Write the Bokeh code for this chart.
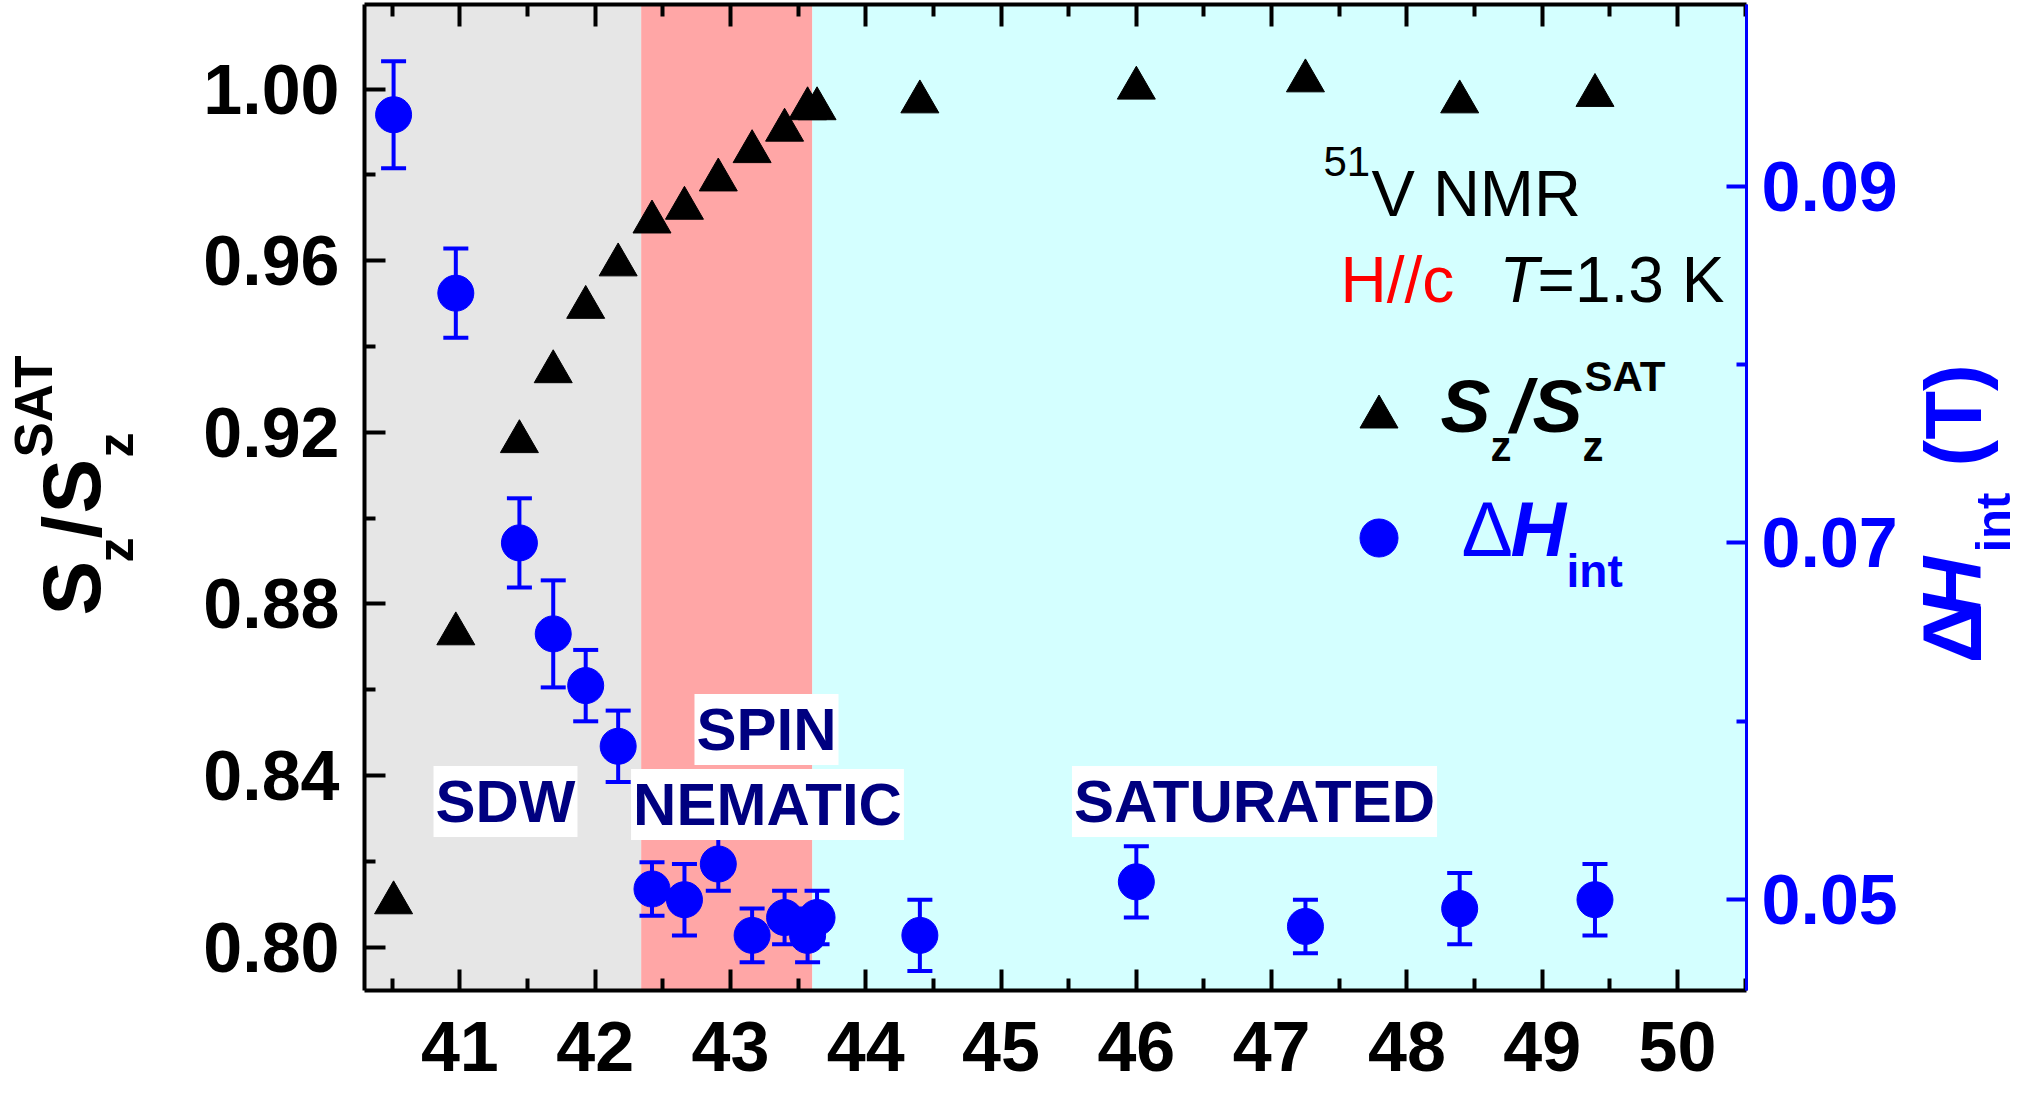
from math import pi
from bokeh.plotting import figure
from bokeh.layouts import row
from bokeh.models import (Range1d, LinearAxis, FixedTicker, PrintfTickFormatter,
                          BoxAnnotation, Label, Legend, LegendItem)
from bokeh.embed import file_html
from bokeh.resources import INLINE

# ---------------- data ----------------
field_T = [40.51, 40.97, 41.44, 41.69, 41.93, 42.17, 42.42, 42.66, 42.91,
           43.16, 43.40, 43.57, 43.64, 44.40, 46.00, 47.25, 48.39, 49.39]
sz_ratio = [0.8103, 0.8730, 0.9178, 0.9341, 0.9491, 0.9590, 0.9690, 0.9722, 0.9788,
            0.9854, 0.9904, 0.9954, 0.9954, 0.9970, 1.0002, 1.0019, 0.9970, 0.9985]
dH_int = [0.0940, 0.0840, 0.0700, 0.0649, 0.0620, 0.0586, 0.0506, 0.0500, 0.0520,
          0.0480, 0.0490, 0.0480, 0.0490, 0.0480, 0.0510, 0.0485, 0.0495, 0.0500]
dH_err = [0.0030, 0.0025, 0.0025, 0.0030, 0.0020, 0.0020, 0.0015, 0.0020, 0.0015,
          0.0015, 0.0015, 0.0015, 0.0015, 0.0020, 0.0020, 0.0015, 0.0020, 0.0020]
phase_edges = [42.34, 43.605]          # SDW | spin nematic | saturated
phase_names = ["SDW", "SPIN", "NEMATIC", "SATURATED"]
x_ticks = [41, 42, 43, 44, 45, 46, 47, 48, 49, 50]
x_minor = [40.5, 41.5, 42.5, 43.5, 44.5, 45.5, 46.5, 47.5, 48.5, 49.5, 50.5]
left_ticks = [0.80, 0.84, 0.88, 0.92, 0.96, 1.00]
left_minor = [0.82, 0.86, 0.90, 0.94, 0.98]
right_ticks = [0.05, 0.07, 0.09]
right_minor = [0.06, 0.08]

dH_lo = [v - e for v, e in zip(dH_int, dH_err)]
dH_hi = [v + e for v, e in zip(dH_int, dH_err)]

FONT = "Liberation Sans"
BLUE = "#0000FF"
NAVY = "#000080"

H = 1103
LW, MW, RW = 170, 1730, 120          # left title strip, main plot, right title strip
FRAME_L, FRAME_R, FRAME_T, FRAME_B = 364, 1746, 4, 990   # page pixels

p = figure(width=MW, height=H, x_range=Range1d(40.295, 50.51),
           y_range=Range1d(0.78986, 1.01970), output_backend="svg",
           toolbar_location=None, min_border_left=FRAME_L - LW,
           min_border_right=LW + MW - FRAME_R, min_border_top=FRAME_T,
           min_border_bottom=H - FRAME_B)
p.extra_y_ranges = {"dH": Range1d(0.04491, 0.10018)}
p.xgrid.visible = False
p.ygrid.visible = False
p.outline_line_color = None
p.background_fill_color = "white"
p.border_fill_color = "white"

# phase backgrounds
p.add_layout(BoxAnnotation(right=phase_edges[0], fill_color="#E6E6E6", fill_alpha=1,
                           line_alpha=0, level="underlay"))
p.add_layout(BoxAnnotation(left=phase_edges[0], right=phase_edges[1], fill_color="#FFA6A6",
                           fill_alpha=1, line_alpha=0, level="underlay"))
p.add_layout(BoxAnnotation(left=phase_edges[1], fill_color="#D4FFFF", fill_alpha=1,
                           line_alpha=0, level="underlay"))


def style_axis(ax, color, tin, tmin, lw, size, standoff, ticks, minor, fmt):
    ax.ticker = FixedTicker(ticks=ticks, minor_ticks=minor)
    ax.formatter = PrintfTickFormatter(format=fmt)
    ax.axis_label = None
    ax.axis_line_color = color
    ax.axis_line_width = lw
    ax.major_tick_line_color = color
    ax.minor_tick_line_color = color
    ax.major_tick_line_width = 4
    ax.minor_tick_line_width = 4
    ax.major_tick_in = tin
    ax.major_tick_out = 0
    ax.minor_tick_in = tmin
    ax.minor_tick_out = 0
    ax.major_label_text_font = FONT
    ax.major_label_text_font_style = "bold"
    ax.major_label_text_font_size = size
    ax.major_label_text_color = color
    ax.major_label_standoff = standoff


style_axis(p.xaxis[0], "black", 21, 12, 4, "70px", 31, x_ticks, x_minor, "%d")
style_axis(p.yaxis[0], "black", 21, 11, 4, "70px", 25, left_ticks, left_minor, "%.2f")

ax_r = LinearAxis(y_range_name="dH")
style_axis(ax_r, BLUE, 20, 10, 3, "70px", 15, right_ticks, right_minor, "%.2f")
p.add_layout(ax_r, "right")

ax_t = LinearAxis()
style_axis(ax_t, "black", 22, 12, 4, "0px", 0, x_ticks, x_minor, "%d")
ax_t.major_label_text_alpha = 0
p.add_layout(ax_t, "above")

# data
r_tri = p.scatter(field_T, sz_ratio, marker="triangle", size=38, color="black")
p.segment(field_T, dH_lo, field_T, dH_hi, y_range_name="dH", line_color=BLUE, line_width=4)
p.scatter(field_T, dH_hi, marker="dash", size=25, line_width=4, line_color=BLUE, y_range_name="dH")
p.scatter(field_T, dH_lo, marker="dash", size=25, line_width=4, line_color=BLUE, y_range_name="dH")
r_circ = p.scatter(field_T, dH_int, marker="circle", size=36, color=BLUE, y_range_name="dH")

# legend symbols (their texts are drawn separately below)
leg = Legend(items=[LegendItem(label=" ", renderers=[r_tri]),
                    LegendItem(label=" ", renderers=[r_circ])],
             location=(1378 - 47.5 - FRAME_L, FRAME_B - 584.5), glyph_width=95,
             glyph_height=95, spacing=26, padding=0, margin=0, border_line_alpha=0,
             background_fill_alpha=0, label_text_font_size="1px", label_standoff=0,
             label_width=1, label_height=1)
p.add_layout(leg)


def lab(fig, x0, y0, text, X, baseY, size, color="black", style="bold", angle=0.0,
        align="left", bg=None, pad=0, mid=False):
    """Place text at page pixel X and baseline baseY (or centre if mid)."""
    kw = {}
    if bg is not None:
        kw = dict(background_fill_color=bg, background_fill_alpha=1, padding=pad)
    if angle == 0.0:
        cy = baseY if mid else baseY - 0.35 * size
        sx, sy = X - x0, y0 - cy
    else:  # rotated 90 deg: baseline is a vertical line at X, text starts at baseY
        cx = X - 0.35 * size
        sx, sy = cx - x0, y0 - baseY
    fig.add_layout(Label(x=sx, y=sy, x_units="screen", y_units="screen",
                         text=text, angle=angle, text_font=FONT,
                         text_font_size=f"{size}px", text_font_style=style,
                         text_color=color, text_align=align, text_baseline="middle", **kw))


def mlab(*a, **k):
    lab(p, FRAME_L, FRAME_B, *a, **k)


# phase labels
mlab(phase_names[0], 505, 801, 60, NAVY, align="center", bg="white", pad=2, mid=True)
mlab(phase_names[1], 766, 729, 60, NAVY, align="center", bg="white", pad=2, mid=True)
mlab(phase_names[2], 767, 804, 60, NAVY, align="center", bg="white", pad=2, mid=True)
mlab(phase_names[3], 1254, 801, 60, NAVY, align="center", bg="white", pad=2, mid=True)

# info text
mlab("51", 1323, 176, 42, style="normal")
mlab("V NMR", 1371, 216, 65, style="normal")
mlab("H//c", 1340, 302, 64, "#FF0000", style="normal")
mlab("T", 1499, 302, 64, style="italic")
mlab("=1.3 K", 1537, 302, 64, style="normal")

# legend texts
mlab("S", 1440, 432, 75, style="bold italic")
mlab("z", 1490, 461, 42)
mlab("/", 1510, 432, 75, style="bold italic")
mlab("S", 1532, 432, 75, style="bold italic")
mlab("z", 1582, 461, 42)
mlab("SAT", 1584, 391, 42)
mlab("\u0394", 1461, 555, 77, BLUE, style="normal")
mlab("H", 1510, 555, 77, BLUE, style="bold italic")
mlab("int", 1566, 587, 46, BLUE)


# side strips holding the rotated axis titles (their frames align with the main frame)
def strip(w):
    f = figure(width=w, height=H, x_range=Range1d(0, w), y_range=Range1d(0, H),
               output_backend="svg", toolbar_location=None, min_border=0,
               min_border_top=FRAME_T, min_border_bottom=H - FRAME_B,
               x_axis_location=None, y_axis_location=None)
    f.grid.visible = False
    f.outline_line_color = None
    f.background_fill_color = "white"
    f.border_fill_color = "white"
    return f


left = strip(LW)
right = strip(RW)
A = pi / 2
for t, X, Y, s in [("S", 100, 615, 82), ("z", 133, 562, 50), ("/", 100, 538, 82),
                   ("S", 100, 513, 82), ("z", 133, 457, 50), ("SAT", 52, 457, 53)]:
    lab(left, 0, FRAME_B, t, X, Y, s, angle=A)

R0 = LW + MW
lab(right, R0, FRAME_B, "\u0394", 1981, 663, 84, BLUE, angle=A)
lab(right, R0, FRAME_B, "H", 1981, 617, 84, BLUE, style="bold italic", angle=A)
lab(right, R0, FRAME_B, "int", 2010, 552, 49, BLUE, angle=A)
lab(right, R0, FRAME_B, "(T)", 1981, 466, 80, BLUE, angle=A)

layout = row(left, p, right, spacing=0)
open("out.html", "w").write(file_html(layout, INLINE))
